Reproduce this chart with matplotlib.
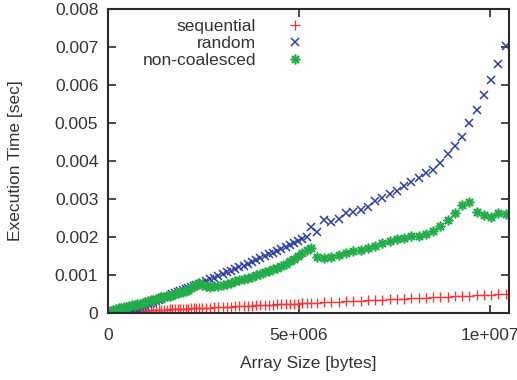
import matplotlib
matplotlib.use("Agg")
import matplotlib.pyplot as plt
from matplotlib.ticker import FixedLocator, FixedFormatter

plt.rcParams['font.family'] = ['Liberation Sans', 'DejaVu Sans']

# Array size in units of 1e6 bytes
size_mb = [0.00, 0.07, 0.14, 0.21, 0.28, 0.35, 0.42, 0.49, 0.56, 0.63, 0.70, 0.77,
           0.84, 0.91, 0.98, 1.05, 1.12, 1.19, 1.26, 1.33, 1.40, 1.47, 1.54, 1.61,
           1.68, 1.75, 1.82, 1.89, 1.96, 2.03, 2.10, 2.17, 2.24, 2.31, 2.38, 2.45,
           2.56, 2.67, 2.78, 2.89, 3.00, 3.11, 3.22, 3.33, 3.44, 3.55, 3.66, 3.77,
           3.88, 3.99, 4.10, 4.21, 4.32, 4.43, 4.54, 4.65, 4.76, 4.87, 4.98, 5.09,
           5.20, 5.31,
           5.47, 5.66, 5.85, 6.04, 6.23, 6.42, 6.61, 6.80, 6.99, 7.18, 7.37, 7.56,
           7.75, 7.94, 8.13, 8.32, 8.51, 8.70, 8.89, 9.08, 9.27, 9.46, 9.65, 9.84,
           10.03, 10.22, 10.41]

# Execution times in milliseconds (1e-3 sec)
sequential = [0.020, 0.023, 0.026, 0.030, 0.033, 0.036, 0.039, 0.043, 0.046, 0.049,
              0.052, 0.055, 0.059, 0.062, 0.065, 0.068, 0.072, 0.075, 0.078, 0.081,
              0.084, 0.088, 0.091, 0.094, 0.097, 0.101, 0.104, 0.107, 0.110, 0.113,
              0.117, 0.120, 0.123, 0.126, 0.129, 0.133,
              0.138, 0.143, 0.148, 0.153, 0.158, 0.163, 0.168, 0.173, 0.178, 0.183,
              0.188, 0.193, 0.198, 0.204, 0.209, 0.214, 0.219, 0.224, 0.229, 0.234,
              0.239, 0.244, 0.249, 0.254, 0.259, 0.264,
              0.272, 0.280, 0.289, 0.298, 0.307, 0.315, 0.324, 0.333, 0.342, 0.350,
              0.359, 0.368, 0.377, 0.385, 0.394, 0.403, 0.411, 0.420, 0.429, 0.438,
              0.446, 0.455, 0.464, 0.473, 0.481, 0.490, 0.499]

random_ = [0.00, 0.00, 0.00, 0.00, 0.01, 0.01, 0.02, 0.03, 0.05, 0.08, 0.11, 0.13,
           0.16, 0.18, 0.21, 0.24, 0.27, 0.30, 0.32, 0.35, 0.38, 0.41, 0.43, 0.46,
           0.49, 0.52, 0.55, 0.58, 0.60, 0.63, 0.66, 0.69, 0.72, 0.75, 0.77, 0.80,
           0.84, 0.89, 0.93, 0.98, 1.02, 1.07, 1.11, 1.16, 1.20, 1.25, 1.30, 1.34,
           1.39, 1.44, 1.49, 1.54, 1.59, 1.64, 1.69, 1.74, 1.79, 1.84, 1.89, 1.95,
           2.00, 2.26,
           2.14, 2.44, 2.40, 2.48, 2.62, 2.66, 2.70, 2.78, 2.95, 3.02, 3.12, 3.22,
           3.33, 3.45, 3.56, 3.68, 3.77, 3.95, 4.18, 4.40, 4.63, 5.00, 5.33, 5.74,
           6.12, 6.55, 7.02]

non_coalesced = [0.04, 0.06, 0.08, 0.10, 0.12, 0.14, 0.15, 0.17, 0.18, 0.20, 0.21, 0.23,
                 0.25, 0.27, 0.29, 0.31, 0.33, 0.35, 0.37, 0.39, 0.41, 0.42, 0.44, 0.46,
                 0.48, 0.50, 0.52, 0.54, 0.56, 0.58, 0.61, 0.65, 0.70, 0.75, 0.78, 0.74,
                 0.70, 0.69, 0.70, 0.72, 0.74, 0.77, 0.80, 0.83, 0.86, 0.89, 0.92, 0.95,
                 0.99, 1.03, 1.07, 1.11, 1.15, 1.19, 1.24, 1.30, 1.37, 1.42, 1.50, 1.58,
                 1.66, 1.72,
                 1.48, 1.44, 1.47, 1.53, 1.57, 1.62, 1.66, 1.72, 1.77, 1.84, 1.90, 1.95,
                 1.98, 2.02, 2.03, 2.08, 2.16, 2.30, 2.45, 2.63, 2.84, 2.93, 2.65, 2.58,
                 2.52, 2.62, 2.60]

series_labels = ['sequential', 'random', 'non-coalesced']
x_ticks = [0, 5e6, 1e7]
x_tick_labels = ['0', '5e+006', '1e+007']
y_ticks = [0, 0.001, 0.002, 0.003, 0.004, 0.005, 0.006, 0.007, 0.008]
y_tick_labels = ['0', '0.001', '0.002', '0.003', '0.004', '0.005', '0.006', '0.007', '0.008']

W, H = 517, 380
fig = plt.figure(figsize=(W / 100, H / 100), dpi=100)
ax = fig.add_axes([108 / W, (H - 313) / H, (509 - 108) / W, (313 - 9) / H])

xs = [v * 1e6 for v in size_mb]
ax.plot(xs, [v * 1e-3 for v in sequential], linestyle='none', marker='+',
        color='#f03a3a', markersize=7, markeredgewidth=1.0, label=series_labels[0])
ax.plot(xs, [v * 1e-3 for v in random_], linestyle='none', marker='x',
        color='#2b3ea3', markersize=6, markeredgewidth=1.1, label=series_labels[1])
ax.plot(xs, [v * 1e-3 for v in non_coalesced], linestyle='none', marker=(8, 2, 0),
        color='#22ad48', markersize=7, markeredgewidth=1.2, label=series_labels[2])

ax.set_xlim(0, 1.0497e7)
ax.set_ylim(0, 0.008)
ax.xaxis.set_major_locator(FixedLocator(x_ticks))
ax.xaxis.set_major_formatter(FixedFormatter(x_tick_labels))
ax.yaxis.set_major_locator(FixedLocator(y_ticks))
ax.yaxis.set_major_formatter(FixedFormatter(y_tick_labels))

txt = '#333333'
for s in ax.spines.values():
    s.set_linewidth(1.5)
    s.set_color('#2a2a2a')
ax.tick_params(direction='in', length=6, width=1.2, color='#2a2a2a',
               top=True, right=True, labelsize=12.5, labelcolor=txt)
ax.tick_params(axis='x', pad=11)
ax.tick_params(axis='y', pad=7)

ax.set_xlabel('Array Size [bytes]', fontsize=12.5, color=txt, labelpad=9)
ax.set_ylabel('Execution Time [sec]', fontsize=12.5, color=txt, labelpad=23)

leg = ax.legend(loc='upper right', bbox_to_anchor=(310 / W, (H - 19) / H),
                bbox_transform=fig.transFigure, frameon=False, markerfirst=False,
                numpoints=1, handlelength=1.7, handletextpad=1.4, labelspacing=0.1,
                fontsize=12.5, borderpad=0, borderaxespad=0)
for t in leg.get_texts():
    t.set_color(txt)

fig.savefig('out.png', dpi=100)
